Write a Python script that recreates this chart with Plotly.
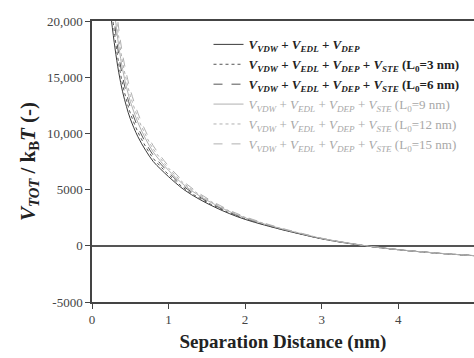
import plotly.graph_objects as go

x_nm = [0.25, 0.30, 0.35, 0.40, 0.45, 0.50, 0.60, 0.70, 0.80, 0.90, 1.00, 1.20, 1.40, 1.60,
        1.80, 2.00, 2.25, 2.50, 2.75, 3.00, 3.25, 3.50, 3.75, 4.00, 4.25, 4.50, 4.75, 5.00]

v_base = [20300, 17600, 15400, 13700, 12400, 11300, 9700, 8500, 7500, 6800, 6150, 5000, 4150, 3450,
          2850, 2350, 1850, 1400, 1000, 620, 320, 60, -160, -350, -510, -650, -770, -880]
v_l3 = [21500, 18560, 16180, 14360, 12980, 11820, 10120, 8840, 7780, 7030, 6340, 5140, 4250, 3530,
        2910, 2400, 1880, 1420, 1020, 630, 330, 70, -155, -345, -510, -650, -770, -880]
v_l6 = [22700, 19520, 16960, 15020, 13560, 12340, 10540, 9180, 8060, 7260, 6530, 5280, 4360, 3610,
        2970, 2440, 1920, 1450, 1035, 645, 335, 70, -150, -345, -505, -645, -770, -880]
v_l9 = [23900, 20480, 17740, 15680, 14140, 12860, 10960, 9520, 8340, 7490, 6720, 5420, 4460, 3690,
        3030, 2490, 1950, 1470, 1055, 655, 345, 80, -150, -340, -505, -645, -765, -875]
v_l12 = [25100, 21440, 18520, 16340, 14720, 13380, 11380, 9860, 8620, 7720, 6910, 5560, 4570, 3770,
         3090, 2535, 1985, 1495, 1070, 670, 350, 85, -145, -340, -500, -640, -765, -875]
v_l15 = [26300, 22400, 19300, 17000, 15300, 13900, 11800, 10200, 8900, 7950, 7100, 5700, 4670, 3850,
         3150, 2580, 2020, 1520, 1090, 680, 360, 90, -140, -335, -500, -640, -765, -875]

y_tick_vals = [-5000, 0, 5000, 10000, 15000, 20000]
y_tick_text = ["-5000", "0", "5000", "10,000", "15,000", "20,000"]
x_tick_vals = [0, 1, 2, 3, 4, 5]

V = "<i>V</i>"
base_txt = f"{V}<sub><i>VDW</i></sub> + {V}<sub><i>EDL</i></sub> + {V}<sub><i>DEP</i></sub>"
ste_txt = base_txt + f" + {V}<sub><i>STE</i></sub>"

def lbl(l0, dark):
    t = ste_txt + f" (L<sub>0</sub>={l0} nm)"
    if dark:
        return f"<b>{t}</b>"
    return f"<span style='color:#a8a8a8'>{t}</span>"

series = [
    (v_base, f"<b>{base_txt}</b>", "#3a3a3a", "solid"),
    (v_l3, lbl(3, True), "#555555", "dot"),
    (v_l6, lbl(6, True), "#555555", "dash"),
    (v_l9, lbl(9, False), "#b0b0b0", "solid"),
    (v_l12, lbl(12, False), "#b0b0b0", "dot"),
    (v_l15, lbl(15, False), "#b0b0b0", "dash"),
]

fig = go.Figure()
for vals, name, col, dash in series:
    fig.add_trace(go.Scatter(x=x_nm, y=vals, name=name, mode="lines",
                             line=dict(color=col, width=1, dash=dash, shape="spline")))

fig.update_layout(
    width=474, height=358,
    margin=dict(l=92, r=0, t=21, b=56, autoexpand=False),
    paper_bgcolor="white", plot_bgcolor="white",
    font=dict(family="Liberation Serif", color="#333333"),
    showlegend=True,
    legend=dict(x=0.305, y=0.97, xanchor="left", yanchor="top",
                font=dict(family="Liberation Serif", size=13, color="#222222"),
                bgcolor="rgba(0,0,0,0)", itemwidth=30, tracegroupgap=0),
)
fig.update_xaxes(range=[0, 4.99], tickvals=x_tick_vals, ticks="outside", ticklen=5,
                 tickcolor="#444", showline=True, linecolor="#444", linewidth=1.5, mirror=True,
                 showgrid=False, zeroline=False, tickfont=dict(size=13, color="#444"),
                 title=dict(text="<b>Separation Distance (nm)</b>", font=dict(size=19, color="#222"),
                            standoff=8))
fig.update_yaxes(range=[-5000, 20000], tickvals=y_tick_vals, ticktext=y_tick_text,
                 ticks="outside", ticklen=5, tickcolor="#444", showline=True, linecolor="#444",
                 linewidth=1.5, showgrid=False, zeroline=True, zerolinecolor="#555",
                 zerolinewidth=2, tickfont=dict(size=13, color="#444"),
                 title=dict(text="<b><i>V</i><sub><i>TOT</i></sub> / k<sub>B</sub><i>T</i> (-)</b>",
                            font=dict(size=21, color="#222"), standoff=6))

fig.write_html("out.html")
